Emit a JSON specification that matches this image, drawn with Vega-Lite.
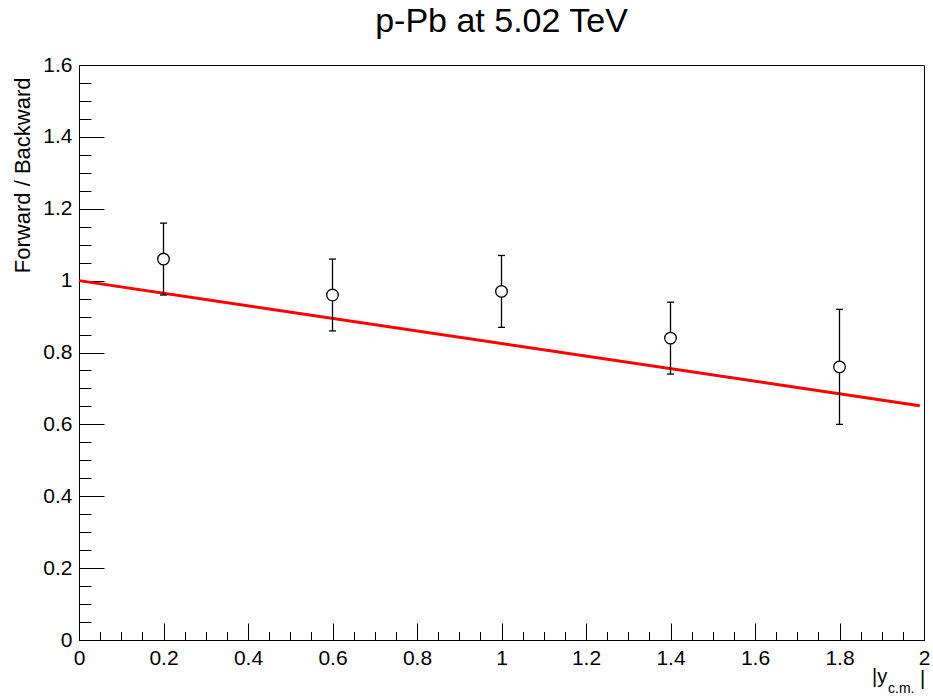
{
  "$schema": "https://vega.github.io/schema/vega-lite/v6.json",
  "width": 845,
  "height": 575,
  "autosize": {"type": "none"},
  "padding": {"left": 79, "top": 65, "right": 9, "bottom": 60},
  "background": "white",
  "title": {"text": "p-Pb at 5.02 TeV", "font": "Liberation Sans", "fontSize": 34, "fontWeight": "normal", "color": "black", "anchor": "middle", "frame": "group", "baseline": "alphabetic", "offset": -12},
  "config": {"view": {"stroke": "black", "strokeWidth": 1}, "font": "Liberation Sans"},
  "resolve": {"axis": {"x": "independent", "y": "independent"}},
  "datasets": {
    "points": [
      {"y_cm": 0.2, "ratio": 1.06, "low": 0.96, "high": 1.16},
      {"y_cm": 0.6, "ratio": 0.96, "low": 0.86, "high": 1.06},
      {"y_cm": 1.0, "ratio": 0.97, "low": 0.87, "high": 1.07},
      {"y_cm": 1.4, "ratio": 0.84, "low": 0.74, "high": 0.94},
      {"y_cm": 1.8, "ratio": 0.76, "low": 0.60, "high": 0.92}
    ],
    "fit": [
      {"y_cm": 0.0, "ratio": 1.0},
      {"y_cm": 1.99, "ratio": 0.652}
    ]
  },
  "layer": [
    {
      "data": {"name": "fit"},
      "mark": {"type": "line", "color": "#ff0000", "strokeWidth": 3},
      "encoding": {
        "x": {
          "field": "y_cm", "type": "quantitative",
          "scale": {"domain": [0, 2], "nice": false, "zero": false},
          "axis": {
            "orient": "bottom",
            "values": [0, 0.2, 0.4, 0.6, 0.8, 1, 1.2, 1.4, 1.6, 1.8, 2],
            "format": "~g",
            "tickSize": -17,
            "labelPadding": 24,
            "labelFlush": false,
            "labelOverlap": false,
            "labelFont": "Liberation Sans",
            "labelFontSize": 21,
            "labelColor": "black",
            "domainColor": "black",
            "domainWidth": 1,
            "tickColor": "black",
            "tickWidth": 1,
            "grid": false,
            "title": null
          }
        },
        "y": {
          "field": "ratio", "type": "quantitative",
          "scale": {"domain": [0, 1.6], "nice": false, "zero": false},
          "axis": {
            "orient": "left",
            "values": [0, 0.2, 0.4, 0.6, 0.8, 1, 1.2, 1.4, 1.6],
            "format": "~g",
            "tickSize": -25,
            "labelPadding": 32,
            "labelOverlap": false,
            "labelFlush": false,
            "labelFont": "Liberation Sans",
            "labelFontSize": 21,
            "labelColor": "black",
            "domainColor": "black",
            "domainWidth": 1,
            "tickColor": "black",
            "tickWidth": 1,
            "grid": false,
            "title": "Forward / Backward",
            "titleFont": "Liberation Sans",
            "titleFontSize": 22,
            "titleFontWeight": "normal",
            "titleColor": "black",
            "titleAngle": -90,
            "titleAlign": "right",
            "titleBaseline": "alphabetic",
            "titleX": -50,
            "titleY": 12
          }
        }
      }
    },
    {
      "data": {"name": "points"},
      "mark": {"type": "rule", "color": "black", "strokeWidth": 1.3},
      "encoding": {
        "x": {
          "field": "y_cm", "type": "quantitative",
          "axis": {
            "orient": "bottom",
            "values": [0.05,0.1,0.15,0.25,0.3,0.35,0.45,0.5,0.55,0.65,0.7,0.75,0.85,0.9,0.95,1.05,1.1,1.15,1.25,1.3,1.35,1.45,1.5,1.55,1.65,1.7,1.75,1.85,1.9,1.95],
            "tickSize": -8.5,
            "labels": false,
            "domain": false,
            "tickColor": "black",
            "tickWidth": 1,
            "grid": false,
            "title": null
          }
        },
        "y": {
          "field": "low", "type": "quantitative",
          "axis": {
            "orient": "left",
            "values": [0.05,0.1,0.15,0.25,0.3,0.35,0.45,0.5,0.55,0.65,0.7,0.75,0.85,0.9,0.95,1.05,1.1,1.15,1.25,1.3,1.35,1.45,1.5,1.55],
            "tickSize": -12,
            "labels": false,
            "domain": false,
            "tickColor": "black",
            "tickWidth": 1,
            "grid": false,
            "title": null
          }
        },
        "y2": {"field": "high"}
      }
    },
    {
      "data": {"name": "points"},
      "mark": {"type": "tick", "orient": "horizontal", "color": "black", "size": 7, "thickness": 1.3, "opacity": 1},
      "encoding": {
        "x": {"field": "y_cm", "type": "quantitative", "axis": null},
        "y": {"field": "low", "type": "quantitative", "axis": null}
      }
    },
    {
      "data": {"name": "points"},
      "mark": {"type": "tick", "orient": "horizontal", "color": "black", "size": 7, "thickness": 1.3, "opacity": 1},
      "encoding": {
        "x": {"field": "y_cm", "type": "quantitative", "axis": null},
        "y": {"field": "high", "type": "quantitative", "axis": null}
      }
    },
    {
      "data": {"name": "points"},
      "mark": {"type": "point", "shape": "circle", "filled": true, "fill": "white", "stroke": "black", "strokeWidth": 1.3, "size": 135, "opacity": 1},
      "encoding": {
        "x": {"field": "y_cm", "type": "quantitative", "axis": null},
        "y": {"field": "ratio", "type": "quantitative", "axis": null}
      }
    },
    {
      "data": {"values": [{"label": "|y"}]},
      "mark": {"type": "text", "align": "left", "baseline": "alphabetic", "font": "Liberation Sans", "fontSize": 20, "color": "black", "dx": -52, "dy": 43},
      "encoding": {"x": {"datum": 2, "axis": null}, "y": {"datum": 0, "axis": null}, "text": {"field": "label"}}
    },
    {
      "data": {"values": [{"label": "c.m."}]},
      "mark": {"type": "text", "align": "left", "baseline": "alphabetic", "font": "Liberation Sans", "fontSize": 14, "color": "black", "dx": -36, "dy": 53},
      "encoding": {"x": {"datum": 2, "axis": null}, "y": {"datum": 0, "axis": null}, "text": {"field": "label"}}
    },
    {
      "data": {"values": [{"label": "|"}]},
      "mark": {"type": "text", "align": "left", "baseline": "alphabetic", "font": "Liberation Sans", "fontSize": 20, "color": "black", "dx": -4, "dy": 45},
      "encoding": {"x": {"datum": 2, "axis": null}, "y": {"datum": 0, "axis": null}, "text": {"field": "label"}}
    }
  ]
}
